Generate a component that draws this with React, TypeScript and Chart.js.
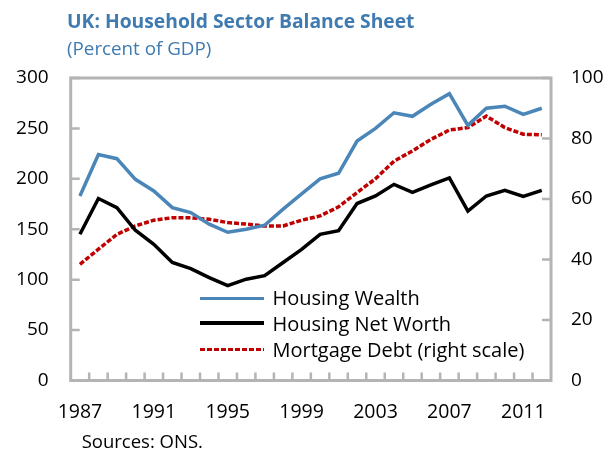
import React, { useEffect, useRef } from "react";
import { Chart, registerables } from "chart.js";

Chart.register(...registerables);

const years = [
  "1987", "1988", "1989", "1990", "1991", "1992", "1993", "1994", "1995", "1996",
  "1997", "1998", "1999", "2000", "2001", "2002", "2003", "2004", "2005", "2006",
  "2007", "2008", "2009", "2010", "2011", "2012",
];
const housingWealth = [
  183, 224, 220, 199.5, 188, 171.5, 166.5, 155, 147, 150,
  154, 170, 185, 200, 205.5, 237.5, 250, 265.5, 262, 274,
  284.5, 253, 270, 272, 264, 270,
];
const housingNetWorth = [
  145, 180.5, 171.5, 149, 135, 117, 111, 102, 94, 100.5,
  104, 117, 130, 145, 148.5, 175.5, 183, 194.5, 186.5, 194,
  201, 168, 183, 188.5, 182.5, 188.5,
];
const mortgageDebt = [
  38.4, 43.4, 48.3, 51.1, 53, 53.8, 53.8, 53.3, 52.2, 51.7,
  51.1, 51.1, 53, 54.4, 57.4, 62.1, 66.7, 72.5, 75.9, 79.7,
  82.8, 83.6, 87.4, 83.6, 81.4, 81.2,
];
const labelEvery = 4;

const BLUE = "#4A86B8";
const TEXT_BLUE = "#3F7BB0";
const RED = "#C00000";
const FRAME = "#B4B4B4";
const FONT = "'Open Sans', sans-serif";

const framePlugin = {
  id: "frame",
  afterDraw(chart: any) {
    const { ctx, chartArea: a, scales } = chart;
    ctx.save();
    ctx.strokeStyle = FRAME;
    ctx.lineWidth = 3;
    ctx.strokeRect(a.left, a.top, a.right - a.left, a.bottom - a.top);
    ctx.lineWidth = 2.5;
    ctx.beginPath();
    const y = scales.y;
    y.ticks.forEach((t: any) => {
      const p = y.getPixelForValue(t.value);
      ctx.moveTo(a.left, p);
      ctx.lineTo(a.left + 9, p);
    });
    const y2 = scales.y2;
    y2.ticks.forEach((t: any) => {
      const p = y2.getPixelForValue(t.value);
      ctx.moveTo(a.right, p);
      ctx.lineTo(a.right - 9, p);
    });
    const x = scales.x;
    for (let i = 1; i < years.length; i++) {
      const p = (x.getPixelForValue(i - 1) + x.getPixelForValue(i)) / 2;
      ctx.moveTo(p, a.bottom);
      ctx.lineTo(p, a.bottom - 8);
    }
    ctx.stroke();
    ctx.restore();
  },
};

export default function App() {
  const ref = useRef<HTMLCanvasElement | null>(null);

  useEffect(() => {
    if (!ref.current) return;
    const chart = new Chart(ref.current, {
      type: "line",
      data: {
        labels: years,
        datasets: [
          {
            label: "Housing Wealth",
            data: housingWealth,
            borderColor: BLUE,
            borderWidth: 3.5,
            pointRadius: 0,
            tension: 0,
            yAxisID: "y",
          },
          {
            label: "Housing Net Worth",
            data: housingNetWorth,
            borderColor: "#000000",
            borderWidth: 3.5,
            pointRadius: 0,
            tension: 0,
            yAxisID: "y",
          },
          {
            label: "Mortgage Debt (right scale)",
            data: mortgageDebt,
            borderColor: RED,
            borderWidth: 3.5,
            borderDash: [5, 2],
            pointRadius: 0,
            tension: 0,
            yAxisID: "y2",
          },
        ],
      },
      options: {
        responsive: false,
        animation: false,
        devicePixelRatio: 1,
        layout: { padding: { top: 78, left: 0, right: 0, bottom: 0 } },
        plugins: {
          legend: { display: false },
          title: { display: false },
          tooltip: { enabled: false },
        },
        scales: {
          x: {
            type: "category",
            offset: true,
            grid: { display: false, drawTicks: false },
            border: { display: false },
            ticks: {
              autoSkip: false,
              maxRotation: 0,
              minRotation: 0,
              padding: 20,
              color: "#000",
              font: { family: FONT, size: 19.5 },
              callback: (_v: any, i: number) => (i % labelEvery === 0 ? years[i] : ""),
            },
            afterFit: (s: any) => {
              s.height = 70.5;
            },
          },
          y: {
            position: "left",
            min: 0,
            max: 300,
            grid: { display: false, drawTicks: false },
            border: { display: false },
            ticks: {
              stepSize: 50,
              padding: 22,
              color: "#000",
              font: { family: FONT, size: 19 },
            },
            afterFit: (s: any) => {
              s.width = 70.7;
            },
          },
          y2: {
            position: "right",
            min: 0,
            max: 100,
            grid: { display: false, drawTicks: false },
            border: { display: false },
            ticks: {
              stepSize: 20,
              padding: 20,
              color: "#000",
              font: { family: FONT, size: 19 },
            },
            afterFit: (s: any) => {
              s.width = 57;
            },
          },
        },
      },
      plugins: [framePlugin],
    });
    return () => chart.destroy();
  }, []);

  const legendRows = [
    { label: "Housing Wealth", style: { background: BLUE }, line: 298.3, base: 306 },
    { label: "Housing Net Worth", style: { background: "#000" }, line: 323, base: 331.7 },
    {
      label: "Mortgage Debt (right scale)",
      style: {
        background: `repeating-linear-gradient(to right, ${RED} 0 5px, transparent 5px 7px)`,
      },
      line: 349.3,
      base: 357.3,
    },
  ];
  const legendFs = 20;

  return (
    <div
      style={{
        position: "fixed",
        left: 0,
        top: 0,
        width: 608,
        height: 451,
        background: "#fff",
        fontFamily: FONT,
        overflow: "hidden",
      }}
    >
      <canvas ref={ref} width={608} height={451} style={{ position: "absolute", left: 0, top: 0, width: 608, height: 451 }} />
      <div
        style={{
          position: "absolute",
          left: 67,
          top: 27.7 - 0.888 * 19.3,
          fontSize: 19.3,
          lineHeight: 1,
          fontWeight: 700,
          color: TEXT_BLUE,
          whiteSpace: "nowrap",
        }}
      >
        UK: Household Sector Balance Sheet
      </div>
      <div
        style={{
          position: "absolute",
          left: 67,
          top: 38.6,
          fontSize: 18.8,
          lineHeight: 1,
          color: TEXT_BLUE,
          whiteSpace: "nowrap",
        }}
      >
        (Percent of GDP)
      </div>
      {legendRows.map((r) => (
        <React.Fragment key={r.label}>
          <div
            style={{
              position: "absolute",
              left: 199.5,
              top: r.line - 1.75,
              width: 64.5,
              height: 3.5,
              ...r.style,
            }}
          />
          <div
            style={{
              position: "absolute",
              left: 272.5,
              top: r.base - 0.888 * legendFs,
              fontSize: legendFs,
              lineHeight: 1,
              color: "#000",
              whiteSpace: "nowrap",
            }}
          >
            {r.label}
          </div>
        </React.Fragment>
      ))}
      <div
        style={{
          position: "absolute",
          left: 81.7,
          top: 448.5 - 0.888 * 18.5,
          fontSize: 18.5,
          lineHeight: 1,
          color: "#000",
          whiteSpace: "nowrap",
        }}
      >
        Sources: ONS.
      </div>
    </div>
  );
}
